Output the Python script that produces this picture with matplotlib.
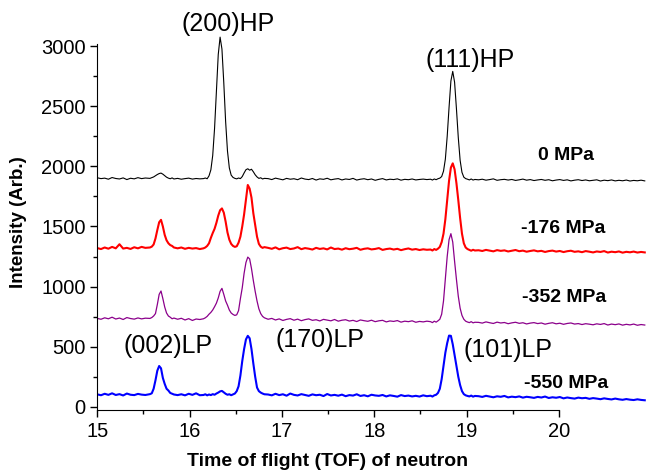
import matplotlib
matplotlib.use("Agg")
import matplotlib.pyplot as plt
from matplotlib.ticker import FixedLocator

plt.rcParams['font.family'] = ['Liberation Sans', 'DejaVu Sans']

# Time of flight grid (ms)
tof = [
    15.00, 15.04, 15.08, 15.12, 15.16, 15.20, 15.24, 15.28, 15.32, 15.36, 15.40, 15.44, 15.48, 15.52,
    15.57, 15.59, 15.61, 15.63, 15.65, 15.67, 15.69, 15.71, 15.73, 15.75, 15.77, 15.79, 15.81, 15.83,
    15.87, 15.91, 15.95, 15.99, 16.03, 16.07, 16.11,
    16.15, 16.17, 16.19, 16.21, 16.23, 16.25, 16.27, 16.29, 16.31, 16.33, 16.35, 16.37, 16.39, 16.41,
    16.43, 16.45, 16.47, 16.49, 16.51, 16.53, 16.55, 16.57, 16.59, 16.61, 16.63, 16.65, 16.67, 16.69,
    16.71, 16.73, 16.75, 16.77, 16.79, 16.81,
    16.85, 16.89, 16.93, 16.97, 17.01, 17.05, 17.09, 17.13, 17.17, 17.21, 17.25, 17.29, 17.33, 17.37,
    17.41, 17.45, 17.49, 17.53, 17.57, 17.61, 17.65, 17.69, 17.73, 17.77, 17.81, 17.85, 17.89, 17.93,
    17.97, 18.01, 18.05, 18.09, 18.13, 18.17, 18.21, 18.25, 18.29, 18.33, 18.37, 18.41, 18.45, 18.49,
    18.53, 18.57,
    18.61, 18.63, 18.65, 18.67, 18.69, 18.71, 18.73, 18.75, 18.77, 18.79, 18.81, 18.83, 18.85, 18.87,
    18.89, 18.91, 18.93, 18.95, 18.97, 18.99, 19.01, 19.03, 19.05, 19.07, 19.09,
    19.13, 19.17, 19.21, 19.25, 19.29, 19.33, 19.37, 19.41, 19.45, 19.49, 19.53, 19.57, 19.61, 19.65,
    19.69, 19.73, 19.77, 19.81, 19.85, 19.89, 19.93, 19.97, 20.01, 20.05, 20.09, 20.13, 20.17, 20.21,
    20.25, 20.29, 20.33, 20.37, 20.41, 20.45, 20.49, 20.53, 20.57, 20.61, 20.65, 20.69, 20.73, 20.77,
    20.81, 20.85, 20.89, 20.93,
]

int_0MPa = [
    1905, 1898, 1902, 1893, 1907, 1899, 1895, 1904, 1890, 1901, 1896, 1906, 1898, 1903,
    1900, 1906, 1912, 1922, 1932, 1940, 1944, 1935, 1922, 1910, 1902, 1897, 1904, 1895,
    1900, 1893, 1898, 1902, 1894, 1899, 1896,
    1898, 1903, 1897, 1921, 1971, 2090, 2315, 2630, 2930, 3075, 2976, 2695, 2372, 2127, 1987, 1927, 1908,
    1900, 1896, 1903, 1898, 1915, 1945, 1972, 1980, 1968, 1976, 1955, 1930, 1912, 1900, 1905, 1895, 1900,
    1898, 1890, 1902, 1895, 1888, 1900, 1893, 1897, 1889, 1903, 1894,
    1890, 1899, 1886, 1896, 1892, 1901, 1888, 1894, 1898, 1887, 1895,
    1891, 1900, 1886, 1893, 1897, 1889, 1895, 1884, 1892, 1898, 1887,
    1893, 1890, 1896, 1885, 1892, 1889, 1895, 1887, 1891, 1894, 1890,
    1893, 1886, 1895, 1889, 1897, 1902, 1915, 1960, 2060, 2250, 2490, 2710, 2790, 2700, 2480, 2240,
    2050, 1950, 1910, 1898, 1893, 1887, 1895, 1886, 1891,
    1888, 1893, 1885, 1890, 1896, 1884, 1889, 1892, 1886, 1891,
    1883, 1888, 1894, 1885, 1890, 1882, 1887, 1891, 1884, 1889,
    1880, 1886, 1890, 1883, 1888, 1879, 1885, 1889, 1882, 1887,
    1880, 1884, 1888, 1878, 1885, 1881, 1887, 1879, 1884, 1880,
    1886, 1878, 1883, 1880, 1885, 1879,
]

int_176MPa = [
    1320, 1312, 1325, 1315, 1330, 1318, 1352, 1316, 1322, 1313, 1327, 1318, 1330, 1322,
    1325, 1332, 1350, 1400, 1470, 1535, 1555, 1500, 1430, 1385, 1360, 1345, 1338, 1325,
    1318, 1325, 1314, 1322, 1316, 1320, 1312,
    1318, 1325, 1338, 1360, 1405, 1445, 1480, 1530, 1590, 1635, 1650, 1615, 1540, 1450, 1390, 1355, 1338,
    1330, 1335, 1365, 1415, 1500, 1600, 1720, 1845, 1815, 1740, 1610, 1510, 1415, 1355, 1332, 1322, 1328,
    1322, 1314, 1326, 1310, 1319, 1324, 1312, 1317, 1328, 1311, 1320,
    1315, 1308, 1322, 1313, 1318, 1309, 1325, 1312, 1316, 1307, 1319,
    1311, 1315, 1322, 1306, 1314, 1318, 1309, 1313, 1320, 1305, 1312,
    1316, 1308, 1314, 1303, 1311, 1317, 1307, 1312, 1304, 1310, 1306,
    1308, 1300, 1312, 1305, 1315, 1330, 1370, 1440, 1560, 1720, 1880, 1990, 2025, 1975, 1860, 1720,
    1570, 1440, 1360, 1325, 1312, 1305, 1298, 1306, 1300,
    1302, 1296, 1305, 1299, 1293, 1303, 1297, 1301, 1292, 1298,
    1304, 1294, 1299, 1290, 1296, 1301, 1293, 1297, 1288, 1295,
    1299, 1291, 1296, 1287, 1294, 1298, 1289, 1293, 1286, 1295,
    1290, 1284, 1292, 1288, 1295, 1283, 1290, 1286, 1292, 1282,
    1289, 1285, 1291, 1283, 1288, 1284,
]

int_352MPa = [
    735, 728, 740, 732, 745, 730, 738, 726, 742, 734, 729, 739, 731, 737,
    735, 742, 755, 775, 850, 935, 963, 900, 830, 780, 755, 745, 732, 738,
    728, 736, 722, 733, 718, 730, 726,
    732, 740, 752, 770, 785, 805, 832, 862, 905, 960, 985, 935, 880, 845, 805, 780, 768,
    760, 765, 800, 900, 990, 1110, 1200, 1245, 1230, 1150, 1050, 960, 880, 815, 775, 752, 740,
    728, 735, 722, 731, 718, 727, 733, 720, 729, 716, 725,
    731, 719, 724, 714, 727, 721, 715, 726, 712, 720, 724,
    713, 719, 709, 722, 716, 711, 720, 708, 715, 719, 706, 714,
    710, 717, 704, 712, 708, 715, 703, 710, 706, 712,
    708, 700, 712, 704, 715, 728, 770, 880, 1060, 1250, 1390, 1440, 1370, 1210, 1060, 920,
    820, 760, 728, 712, 705, 700, 708, 698, 703,
    702, 696, 706, 699, 693, 704, 697, 701, 691, 698,
    703, 694, 699, 689, 696, 700, 692, 697, 687, 694,
    699, 690, 695, 686, 693, 697, 688, 692, 684, 691,
    687, 682, 690, 685, 692, 680, 688, 683, 689, 679,
    686, 681, 688, 678, 684, 680,
]

int_550MPa = [
    103, 96, 108, 99, 112, 98, 105, 94, 110, 100, 97, 107, 101, 98,
    105, 112, 150, 220, 300, 339, 320, 240, 190, 150, 135, 115, 108, 102,
    97, 104, 95, 108, 99, 112, 96,
    98, 104, 95, 102, 97, 105, 100, 110, 118, 128, 132, 120, 108, 100, 104, 96, 103,
    110, 130, 170, 260, 380, 480, 560, 590, 570, 480, 360, 250, 160, 130, 118, 110, 104,
    102, 95, 108, 97, 104, 92, 110, 99, 94, 105, 98,
    91, 103, 96, 100, 89, 106, 94, 99, 92, 101, 88,
    97, 93, 104, 90, 96, 87, 100, 94, 91, 98, 86, 95,
    90, 84, 97, 89, 93, 86, 91, 85, 95, 88,
    92, 85, 95, 100, 115, 150, 230, 340, 450, 530, 592, 590, 520, 430, 340, 250,
    180, 130, 105, 95, 90, 86, 93, 84, 90,
    88, 82, 91, 85, 79, 87, 83, 90, 78, 84,
    80, 86, 76, 83, 79, 74, 82, 77, 85, 73,
    79, 75, 81, 70, 77, 72, 68, 76, 71, 74,
    66, 72, 68, 63, 70, 65, 61, 68, 62, 58,
    64, 59, 56, 62, 57, 54,
]

series = [
    (int_0MPa, 'black', 0.8),
    (int_176MPa, '#FF0000', 1.5),
    (int_352MPa, '#8B008B', 0.9),
    (int_550MPa, '#0000FF', 1.5),
]

stress_labels = ['0 MPa', '-176 MPa', '-352 MPa', '-550 MPa']
stress_pos = [(20.08, 2051), (20.05, 1442), (20.06, 874), (20.08, 153)]

peak_labels = ['(200)HP', '(111)HP', '(002)LP', '(170)LP', '(101)LP']
peak_pos = [(16.42, 3128), (19.04, 2829), (15.77, 449), (17.41, 499), (19.45, 416)]

x_major = [15, 16, 17, 18, 19, 20]
x_minor = [15.5, 16.5, 17.5, 18.5, 19.5]
y_major = [0, 500, 1000, 1500, 2000, 2500, 3000]
y_minor = [250, 750, 1250, 1750, 2250, 2750]

fig = plt.figure(figsize=(6.47, 4.74), dpi=100)
ax = fig.add_axes([0.1504, 0.135, 0.849, 0.793])

for ys, c, lw in series:
    ax.plot(tof, ys, color=c, lw=lw)

ax.set_xlim(15, 20.95)
ax.set_ylim(-27, 3100)

for s in ['top', 'right']:
    ax.spines[s].set_visible(False)
ax.spines['bottom'].set_bounds(15, 20)
ax.spines['left'].set_bounds(-27, 3020)

ax.xaxis.set_major_locator(FixedLocator(x_major))
ax.xaxis.set_minor_locator(FixedLocator(x_minor))
ax.yaxis.set_major_locator(FixedLocator(y_major))
ax.yaxis.set_minor_locator(FixedLocator(y_minor))
ax.tick_params(which='major', direction='out', length=5, width=1, labelsize=14.5)
ax.tick_params(which='minor', direction='out', length=3, width=1)

ax.set_xlabel('Time of flight (TOF) of neutron', fontsize=14, fontweight='bold')
ax.set_ylabel('Intensity (Arb.)', fontsize=13.5, fontweight='bold')
ax.yaxis.set_label_coords(-0.128, 0.5)
ax.xaxis.set_label_coords(0.42, -0.115)

for txt, (x, y) in zip(stress_labels, stress_pos):
    ax.text(x, y, txt, ha='center', va='baseline', fontsize=14, fontweight='bold')
for txt, (x, y) in zip(peak_labels, peak_pos):
    ax.text(x, y, txt, ha='center', va='baseline', fontsize=18)

fig.savefig('out.png', dpi=100)
